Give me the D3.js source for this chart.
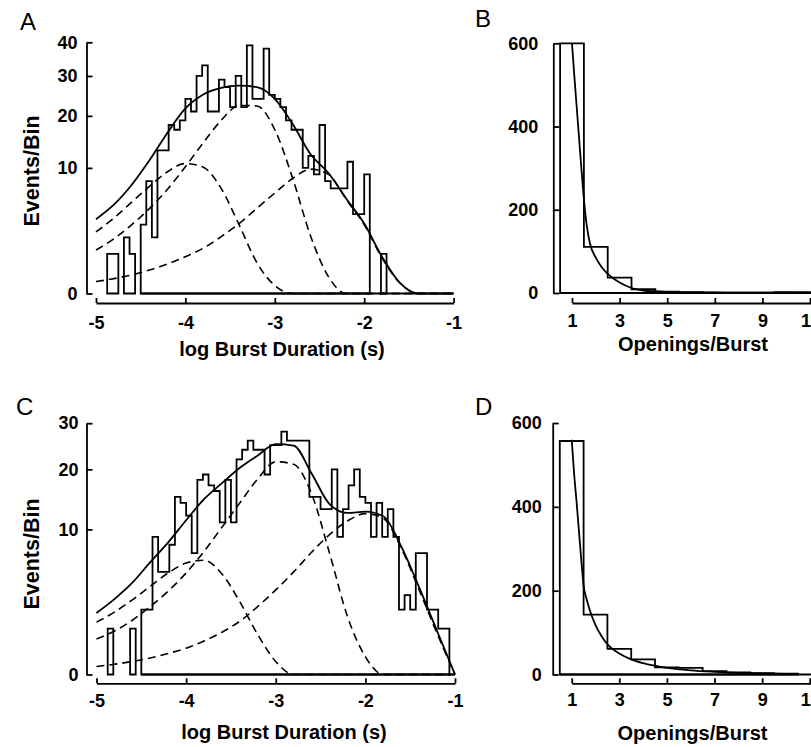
<!DOCTYPE html>
<html>
<head>
<meta charset="utf-8">
<script src="https://cdn.jsdelivr.net/npm/d3@7"></script>
<style>
  body { margin: 0; background: #fff; }
  svg text { font-family: "Liberation Sans", Arial, sans-serif; fill: #000; }
  .tick text { font-size: 18px; font-weight: bold; }
  .axis path, .axis line { stroke: #000; stroke-width: 1.8; }
  .title { font-size: 20px; font-weight: bold; }
  .ytitle { font-size: 21.5px; font-weight: bold; }
  .letter { font-size: 24px; }
  .hist { fill: none; stroke: #000; stroke-width: 1.8; stroke-linejoin: miter; }
  .fit { fill: none; stroke: #000; stroke-width: 1.8; }
  .comp { fill: none; stroke: #000; stroke-width: 1.6; stroke-dasharray: 8,5; }
</style>
</head>
<body>
<svg id="fig" width="811" height="747"></svg>
<script>
// ---- tick labels ----
var logTicks = [-5, -4, -3, -2, -1];
var countTicksA = [0, 10, 20, 30, 40];
var countTicksC = [0, 10, 20, 30];
var openTicks = [1, 3, 5, 7, 9, 11];
var openCountTicks = [0, 200, 400, 600];

// ---- burst duration histograms (bins of 1/16 decade from -5) ----
var binStart = -5;
var binWidth = 0.0625;
var baselineFrom = -4.5;
var burstCountsA = [0, 0, 1, 1, 0, 2, 1, 0, 3, 8, 2, 13, 13, 18, 17, 19, 24, 21, 30, 33,
                    21, 21, 29, 27, 22, 30, 22, 39, 24, 24, 38, 25, 24, 22, 19, 17, 17, 10, 12, 9,
                    18, 8, 7, 7, 7, 11, 4, 4, 9, 0, 0, 1];
var burstCountsC = [0, 0, 1, 0, 0, 0, 1, 0, 2, 2, 9, 5, 5, 8, 15, 14, 12, 7, 18, 19,
                    17, 16, 11, 18, 11, 22, 24, 26, 24, 24, 19, 25, 25, 28, 26, 26, 26, 26, 15, 15,
                    13, 13, 20, 9, 13, 17, 20, 15, 14, 9, 14, 9, 13, 9, 2, 3, 2, 7, 7, 2,
                    2, 1, 1];

// ---- fitted curves, sampled on a log grid ----
var logGrid = [-5, -4.8, -4.6, -4.4, -4.2, -4, -3.8, -3.6, -3.4, -3.2, -3,
               -2.8, -2.6, -2.4, -2.2, -2, -1.8, -1.6, -1.4, -1.2, -1];
var fitTotalA = [3.5, 5.0, 7.5, 11.3, 16.4, 21.7, 25.1, 26.8, 27.4, 27.0, 24.0,
                 18.2, 12.3, 9.2, 5.7, 3.1, 0.85, 0.07, 0, 0, 0];
var fitFastA = [2.4, 3.6, 5.3, 7.3, 9.4, 10.7, 10.1, 7.0, 3.0, 0.6, 0.04,
                0, 0, 0, 0, 0, 0, 0, 0, 0, 0];
var fitMidA = [1.2, 1.9, 3.0, 4.6, 6.9, 10.2, 14.4, 19.0, 22.4, 22.3, 17.0,
               8.4, 2.1, 0.18, 0, 0, 0, 0, 0, 0, 0];
var fitSlowA = [0.09, 0.14, 0.22, 0.35, 0.55, 0.86, 1.3, 2.05, 3.1, 4.6, 6.4,
                8.4, 9.8, 9.0, 5.6, 3.0, 0.8, 0.07, 0, 0, 0];

var fitTotalC = [1.8, 2.7, 4.0, 6.0, 8.3, 11.3, 14.6, 17.4, 20.3, 22.8, 25.2,
                 24.9, 19.2, 13.8, 12.4, 12.6, 11.9, 7.8, 3.6, 0.9, 0];
var fitFastC = [1.3, 1.85, 2.65, 3.7, 4.9, 5.9, 6.2, 4.8, 2.5, 0.75, 0.08,
                0, 0, 0, 0, 0, 0, 0, 0, 0, 0];
var fitMidC = [0.6, 0.9, 1.4, 2.2, 3.3, 4.9, 7.2, 10.3, 14.0, 18.2, 21.5,
               21.0, 15.5, 7.0, 1.6, 0.15, 0, 0, 0, 0, 0];
var fitSlowC = [0.03, 0.05, 0.08, 0.13, 0.21, 0.33, 0.53, 0.85, 1.35, 2.2, 3.4,
                5.0, 7.1, 9.3, 11.2, 12.3, 11.6, 7.6, 3.4, 0.8, 0];

// ---- openings per burst ----
var openCountsB = [600, 111, 37, 9, 3, 2, 1, 1, 1, 2, 2];   // bins 1..11
var openCountsD = [557, 143, 61, 36, 17, 16, 8, 5, 3, 2];   // bins 1..10
var openGridB = [1, 1.1, 1.2, 1.3, 1.4, 1.5, 1.625, 1.75, 2, 2.25, 2.5, 3, 3.5, 4,
                 5, 6, 7, 8, 9, 10, 11, 11.5];
var fitB = [600, 520, 445, 370, 295, 225, 160, 120, 85, 62, 46, 25, 12, 6,
            2.5, 1.5, 1.2, 1, 0.8, 0.6, 0.4, 0.3];
var openGridD = [1, 1.1, 1.2, 1.3, 1.4, 1.5, 1.625, 1.75, 2, 2.25, 2.5, 3, 3.5, 4,
                 5, 6, 7, 8, 9, 10, 10.5];
var fitD = [560, 480, 415, 345, 275, 212, 180, 155, 118, 92, 72, 50, 36, 27,
            16, 10, 6.5, 4, 2.5, 1.6, 1.3];

var svg = d3.select("#fig");
var fmt = function(d) { return String(d); };

// step outline of a histogram, closed at the base for every run of non-empty bins
function histPath(counts, left, width, x, y) {
    var p = d3.path();
    var inRun = false;
    counts.forEach(function(c, j) {
        var x0 = x(left + j * width), x1 = x(left + (j + 1) * width);
        if (c > 0) {
            if (!inRun) { p.moveTo(x0, y(0)); inRun = true; }
            p.lineTo(x0, y(c));
            p.lineTo(x1, y(c));
        } else if (inRun) {
            p.lineTo(x0, y(0));
            p.closePath();
            inRun = false;
        }
    });
    if (inRun) {
        p.lineTo(x(left + counts.length * width), y(0));
        p.closePath();
    }
    return p.toString();
}

function drawPanel(p) {
    var g = svg.append("g");

    g.append("g").attr("class", "axis")
        .attr("transform", "translate(0," + p.xAxisY + ")")
        .call(d3.axisBottom(p.x).tickValues(p.xTicks).tickSizeInner(-5)
            .tickSizeOuter(0).tickPadding(p.xPad).tickFormat(fmt));

    g.append("g").attr("class", "axis")
        .attr("transform", "translate(" + p.yAxisX + ",0)")
        .call(d3.axisLeft(p.y).tickValues(p.yTicks).tickSizeInner(-6)
            .tickSizeOuter(0).tickPadding(p.yPad).tickFormat(fmt));

    // baseline of the histogram
    g.append("line").attr("class", "hist")
        .attr("x1", p.x(p.baseFrom)).attr("x2", p.x(p.x.domain()[1]))
        .attr("y1", p.y(0)).attr("y2", p.y(0));

    g.append("path").attr("class", "hist")
        .attr("d", histPath(p.counts, p.binLeft, p.binW, p.x, p.y));

    var line = d3.line()
        .x(function(d) { return p.x(d[0]); })
        .y(function(d) { return p.y(d[1]); })
        .curve(d3.curveMonotoneX);

    (p.comps || []).forEach(function(vals) {
        g.append("path").attr("class", "comp").attr("d", line(d3.zip(p.grid, vals)));
    });
    g.append("path").attr("class", "fit").attr("d", line(d3.zip(p.grid, p.fit)));

    g.append("text").attr("class", "letter")
        .attr("x", p.letter[0]).attr("y", p.letter[1]).text(p.name);

    g.append("text").attr("class", "title").attr("text-anchor", "middle")
        .attr("x", p.xTitle[0]).attr("y", p.xTitle[1]).text(p.xLabel);

    if (p.yTitle) {
        g.append("text").attr("class", "ytitle").attr("text-anchor", "middle")
            .attr("transform", "translate(" + p.yTitle[0] + "," + p.yTitle[1] + ") rotate(-90)")
            .text("Events/Bin");
    }
}

drawPanel({
    name: "A",
    x: d3.scaleLinear().domain([-5, -1]).range([96, 453.6]),
    y: d3.scaleSqrt().domain([0, 40]).range([293.5, 42.3]),
    xTicks: logTicks, yTicks: countTicksA,
    xAxisY: 303, yAxisX: 86.5, xPad: 13, yPad: 9,
    counts: burstCountsA, binLeft: binStart, binW: binWidth, baseFrom: baselineFrom,
    grid: logGrid, fit: fitTotalA, comps: [fitFastA, fitMidA, fitSlowA],
    letter: [20, 30], xTitle: [282, 356], yTitle: [39, 171],
    xLabel: "log Burst Duration (s)"
});

drawPanel({
    name: "B",
    x: d3.scaleLinear().domain([1, 11.2]).range([572, 814.8]),
    y: d3.scaleLinear().domain([0, 600]).range([293, 43.3]),
    xTicks: openTicks, yTicks: openCountTicks,
    xAxisY: 303, yAxisX: 553.3, xPad: 11, yPad: 15,
    counts: openCountsB, binLeft: 0.5, binW: 1, baseFrom: 0.5,
    grid: openGridB, fit: fitB,
    letter: [475, 27], xTitle: [693, 351],
    xLabel: "Openings/Burst"
});

drawPanel({
    name: "C",
    x: d3.scaleLinear().domain([-5, -1]).range([96.5, 455]),
    y: d3.scaleSqrt().domain([0, 30]).range([674.5, 423.2]),
    xTicks: logTicks, yTicks: countTicksC,
    xAxisY: 683.3, yAxisX: 86.5, xPad: 11, yPad: 8,
    counts: burstCountsC, binLeft: binStart, binW: binWidth, baseFrom: baselineFrom,
    grid: logGrid, fit: fitTotalC, comps: [fitFastC, fitMidC, fitSlowC],
    letter: [16, 415], xTitle: [284, 739], yTitle: [39, 554],
    xLabel: "log Burst Duration (s)"
});

drawPanel({
    name: "D",
    x: d3.scaleLinear().domain([1, 11.2]).range([571.7, 814.5]),
    y: d3.scaleLinear().domain([0, 600]).range([674.5, 423]),
    xTicks: openTicks, yTicks: openCountTicks,
    xAxisY: 683.3, yAxisX: 552.7, xPad: 10, yPad: 11,
    counts: openCountsD, binLeft: 0.5, binW: 1, baseFrom: 0.5,
    grid: openGridD, fit: fitD,
    letter: [475, 415], xTitle: [692.5, 740],
    xLabel: "Openings/Burst"
});
</script>
</body>
</html>
